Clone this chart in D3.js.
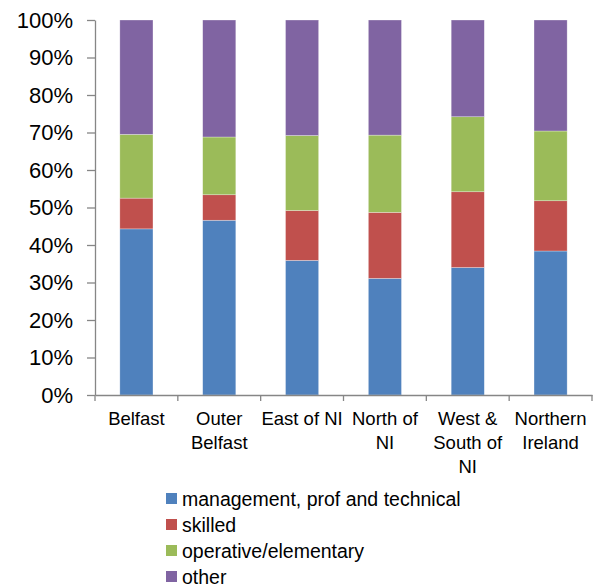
<!DOCTYPE html>
<html>
<head>
<meta charset="utf-8">
<script src="https://cdn.jsdelivr.net/npm/d3@7"></script>
<style>
  html, body { margin: 0; padding: 0; background: #fff; }
  svg { display: block; font-family: "Liberation Sans", Arial, sans-serif; }
</style>
</head>
<body>
<svg id="chart" width="597" height="585"></svg>
<script>
const categories = ["Belfast", "Outer Belfast", "East of NI", "North of NI", "West & South of NI", "Northern Ireland"];
const categoryLines = [["Belfast"], ["Outer", "Belfast"], ["East of NI"], ["North of", "NI"], ["West &", "South of", "NI"], ["Northern", "Ireland"]];
const seriesNames = ["management, prof and technical", "skilled", "operative/elementary", "other"];
const management = [44.3, 46.6, 35.9, 31.1, 34.0, 38.4];
const skilled = [8.2, 6.8, 13.3, 17.6, 20.2, 13.4];
const operative = [17.0, 15.4, 20.0, 20.6, 20.0, 18.6];
const other = [30.5, 31.2, 30.8, 30.7, 25.8, 29.6];
const yTicks = [0, 10, 20, 30, 40, 50, 60, 70, 80, 90, 100];
const colors = ["#4F81BD", "#C0504D", "#9BBB59", "#8064A2"];

const seriesValues = [management, skilled, operative, other];
const rows = categories.map((c, i) => {
  const r = { category: c };
  seriesNames.forEach((s, j) => r[s] = seriesValues[j][i]);
  return r;
});
const stacked = d3.stack().keys(seriesNames).offset(d3.stackOffsetExpand)(rows);

const svg = d3.select("#chart");
const margin = { left: 95 };
const x = d3.scaleBand().domain(categories).range([margin.left, 592]).paddingInner(0.6).paddingOuter(0.3);
const y = d3.scaleLinear().domain([0, 1]).range([395, 20]);
const axisColor = "#868686";

// bars
svg.append("g").selectAll("g").data(stacked).join("g")
  .attr("fill", (d, i) => colors[i])
  .selectAll("rect").data(d => d).join("rect")
  .attr("x", d => x(d.data.category))
  .attr("width", x.bandwidth())
  .attr("y", d => y(d[1]))
  .attr("height", d => y(d[0]) - y(d[1]))
  .attr("stroke", "rgba(255,255,255,0.5)")
  .attr("stroke-width", 0.6);

// y axis
const yAxis = svg.append("g").attr("transform", `translate(${margin.left},0)`)
  .call(d3.axisLeft(y).tickValues(yTicks.map(v => v / 100)).tickFormat(d => Math.round(d * 100) + "%").tickSize(8).tickSizeOuter(0).tickPadding(14));
yAxis.select(".domain").attr("stroke", axisColor).attr("stroke-width", 1.3);
yAxis.selectAll(".tick line").attr("stroke", axisColor).attr("stroke-width", 1.3);
yAxis.selectAll(".tick text").attr("font-size", 22).attr("fill", "#000").attr("font-family", "Liberation Sans, Arial, sans-serif");

// x axis
const xAxis = svg.append("g").attr("transform", `translate(0,395)`)
  .call(d3.axisBottom(x).tickSize(0).tickFormat(""));
xAxis.select(".domain").attr("stroke", axisColor).attr("stroke-width", 1.3);
const boundaries = d3.range(categories.length + 1).map(i => margin.left + i * (592 - margin.left) / categories.length);
svg.append("g").selectAll("line").data(boundaries).join("line")
  .attr("x1", d => d).attr("x2", d => d)
  .attr("y1", 395).attr("y2", 401)
  .attr("stroke", axisColor).attr("stroke-width", 1.3);

// x labels
const xl = svg.append("g").selectAll("text").data(categories).join("text")
  .attr("x", d => x(d) + x.bandwidth() / 2)
  .attr("y", 425)
  .attr("text-anchor", "middle")
  .attr("font-size", 18.5)
  .attr("fill", "#000");
xl.each(function(d, i) {
  d3.select(this).selectAll("tspan").data(categoryLines[i]).join("tspan")
    .attr("x", x(d) + x.bandwidth() / 2)
    .attr("dy", (t, k) => k === 0 ? 0 : 24)
    .text(t => t);
});

// legend
const legend = svg.append("g").selectAll("g").data(seriesNames).join("g")
  .attr("transform", (d, i) => `translate(166,${499 + i * 26})`);
legend.append("rect").attr("x", 0).attr("y", -6).attr("width", 11).attr("height", 11)
  .attr("fill", (d, i) => colors[i]);
legend.append("text").attr("x", 16).attr("y", 0).attr("dy", "0.35em")
  .attr("font-size", 19.5).attr("fill", "#000").text(d => d);
</script>
</body>
</html>
